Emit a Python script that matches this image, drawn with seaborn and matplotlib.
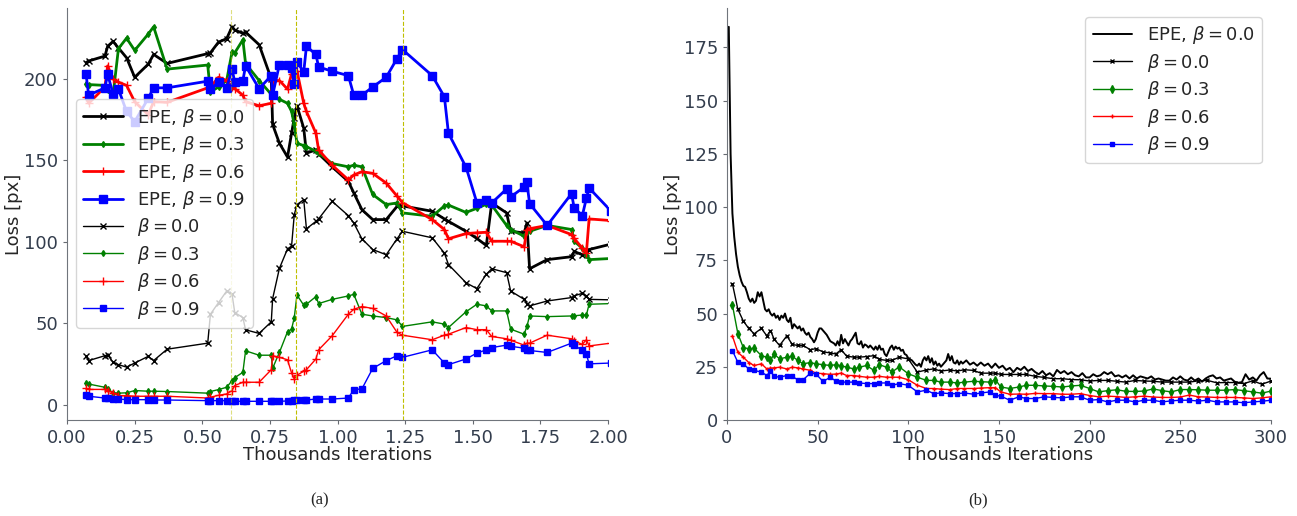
import numpy as np
import matplotlib
matplotlib.use('Agg')
import matplotlib.pyplot as plt
import seaborn as sns

# ---- (a) first 2k iterations ----
left_x = [0.07, 0.08, 0.14, 0.15, 0.17, 0.19, 0.22, 0.25, 0.30, 0.32,
          0.37, 0.52, 0.53, 0.56, 0.59, 0.61, 0.62, 0.65, 0.66, 0.71,
          0.755, 0.76, 0.785, 0.815, 0.83, 0.84, 0.85, 0.875, 0.885, 0.92,
          0.93, 0.98, 1.04, 1.06, 1.09, 1.13, 1.18, 1.22, 1.24, 1.35,
          1.395, 1.41, 1.475, 1.515, 1.55, 1.57, 1.625, 1.64, 1.69, 1.70,
          1.71, 1.775, 1.865, 1.875, 1.905, 1.92, 1.93, 2.01]

epe_b00 = [210, 211, 214, 220, 223, 219, 213, 201, 209, 215,
           209.5, 215.5, 216, 222.6, 224.7, 232, 230, 228, 228.7, 221,
           200, 172, 160.5, 152, 166.6, 176, 183.5, 169.7, 154.4, 156.4,
           154, 146, 137, 130, 119.7, 113.6, 113.6, 121.7, 122, 118.7,
           114, 112.5, 106.4, 102, 97.7, 123.8, 117.7, 106.4, 105.4, 111.5,
           83.4, 89, 90.8, 94, 92, 93, 95.2, 98.5]
epe_b03 = [197, 196.5, 196, 193, 190, 218.6, 225, 217.5, 227.5, 232,
           206, 208.5, 192, 195, 199, 216.5, 216, 224, 209.4, 199,
           190.5, 190, 187.5, 185, 180, 172, 160.5, 159, 158.4, 155.5,
           154.5, 148, 146, 147, 146, 129, 122.8, 123.8, 117.7, 115.6,
           122, 122.5, 118, 120.5, 123, 122.5, 110, 107.5, 103.4, 105.8,
           106.4, 110, 107.5, 100.3, 96, 92, 89, 89.7]
epe_b06 = [189, 185, 195, 208, 200, 198, 196, 186, 178, 186,
           185.6, 194.5, 195, 201, 199, 195, 194, 190, 186, 183.5,
           185, 199, 199, 193.7, 203, 204, 205, 185, 180, 166.6,
           156.4, 147, 138, 141, 143, 142, 136, 128, 124, 113.6,
           107.5, 101.8, 105, 105.5, 105.8, 100.3, 100.3, 100.3, 96.9, 107.5,
           108, 110, 104.4, 102, 96, 93.2, 114, 113]
epe_b09 = [203, 190, 194.5, 202.7, 191, 193.7, 180, 173.7, 188, 194.5,
           194.5, 198.6, 193.7, 198, 194.5, 206, 198, 199, 208, 194,
           202, 190, 208.8, 208.8, 206.7, 196.6, 210.4, 204.3, 220, 215,
           207.3, 204.7, 202, 190, 190, 195, 201, 212.5, 218, 202,
           189, 166.6, 145.8, 124, 125.4, 123.8, 132.4, 127.5, 133.6, 136.4,
           123.4, 110, 129.5, 120.7, 116, 126.8, 133, 119]
b00 = [30, 27, 30, 30.5, 26, 24.5, 23, 25.5, 29.6, 27,
       34, 37.7, 55.5, 62.6, 69.7, 67.7, 56.5, 53.4, 45.9, 43.7,
       50.8, 65, 83.6, 95.6, 97.3, 116.6, 122.8, 125.8, 107.9, 112.5,
       114, 124.8, 116, 111.5, 101.8, 95.2, 92, 101.8, 106.4, 102.4,
       93, 86, 74.8, 71.2, 80, 83.4, 81, 69.7, 64.6, 62,
       60.6, 63.6, 65.7, 66.8, 68.3, 66.8, 64.6, 64.3]
b03 = [13.3, 12.6, 10.6, 9.6, 7.2, 7, 7.2, 8.6, 8.2, 8.2,
       8, 7, 8, 9.2, 10.6, 14.7, 16.5, 19.8, 33, 30.3,
       30.3, 22.3, 32, 44.7, 46.3, 53.4, 67.3, 61, 61.6, 66.3,
       62, 64.6, 66.7, 67.7, 55.5, 54.4, 53.4, 52, 48, 50.8,
       49.4, 47.3, 57, 61.6, 60.6, 57.5, 57.5, 46.3, 43.2, 48,
       54.4, 54, 54.4, 54.5, 55, 55, 61.6, 62]
b06 = [10, 9.3, 9.3, 8.6, 7.2, 5.5, 5.5, 5.1, 5.1, 5.1,
       5.1, 4, 4.5, 5.7, 6.5, 8.6, 11.7, 13.7, 13.7, 13.7,
       21.4, 30, 29, 27.5, 19.4, 15.7, 18, 20.5, 21.4, 28,
       33.6, 42.2, 55.5, 58.5, 60.2, 59, 54.4, 44.3, 42.6, 39.8,
       42.6, 43.2, 47.3, 46, 46, 41.8, 40.4, 39.5, 36.5, 37.7,
       37.7, 42.6, 40.4, 39, 37, 39.8, 36, 37.7]
b09 = [6, 5.1, 4, 3.8, 3.4, 3.4, 3, 3, 3, 2.8,
       2.8, 2.4, 2.4, 2.4, 2.4, 2.2, 2, 2, 2, 2,
       2, 2, 2, 2.2, 2.4, 2.5, 2.6, 2.8, 2.8, 3.4,
       3.4, 3.4, 4, 9.2, 9.6, 22.2, 27, 30, 29, 33.6,
       25.5, 24.5, 28, 31.6, 33.6, 35, 36.5, 35.8, 34.6, 33.2,
       33.2, 32, 37.7, 36.5, 33.2, 31, 25, 25.5]
marks_a = [0.607, 0.848, 1.241]

# ---- (b) full run ----
right_x = [3, 6, 9, 12, 15, 19, 22, 24, 26, 29,
           33, 36, 39, 42, 46, 49, 53, 57, 60, 63,
           66, 70, 73, 77, 81, 84, 88, 91, 95, 100,
           105, 110, 114, 118, 123, 127, 131, 136, 140, 145,
           148, 151, 156, 161, 165, 170, 175, 180, 185, 190,
           195, 200, 205, 210, 215, 220, 225, 230, 235, 240,
           245, 250, 255, 260, 265, 270, 275, 280, 285, 290,
           295, 300]
r_b00 = [64, 52, 46.5, 43, 40.5, 43, 39.5, 42, 38, 35,
         39.5, 35.5, 35, 35, 33, 33.5, 32, 31.5, 31, 33,
         30, 29.5, 29.5, 29.8, 30.2, 28.5, 28, 28, 29.5, 28.7,
         22.5, 23.5, 24, 23, 23.5, 23, 23.6, 23.3, 22, 22,
         22, 21.4, 21.4, 21.4, 21.4, 20.5, 20, 19.4, 19.4, 19,
         18.9, 18.3, 18.6, 18.6, 18.2, 17.8, 18.6, 18.3, 18.2, 17.8,
         17.8, 17.8, 17.8, 18.4, 18.6, 17.5, 17.6, 17.6, 17.1, 18.4,
         16.8, 18.3]
r_b03 = [54, 40.6, 34, 33.5, 33.7, 30.2, 29.5, 28, 31, 28.7,
         29.5, 30, 28, 26.4, 27, 26.4, 26, 25.6, 26, 25.5,
         24.8, 24, 24.8, 25.6, 23.3, 26, 24.8, 22.5, 25, 21.7,
         20.1, 18.6, 18.6, 17.8, 17.8, 17.4, 17.8, 18.2, 18, 17.8,
         19, 15.5, 14.8, 15.5, 16.3, 16.3, 16, 15.8, 15.5, 16,
         16.3, 14.8, 13.2, 13.8, 14.2, 13.5, 13.4, 13.6, 14.6, 13.8,
         13.2, 14.3, 14.3, 14.2, 14, 14, 14, 14.3, 13.8, 13.2,
         12.6, 13.6]
r_b06 = [39.5, 31.8, 29.5, 27, 25.6, 26.4, 24, 24.4, 24.5, 24.8,
         24, 24.8, 24.5, 24, 23.3, 22, 21.8, 21.4, 21.6, 22,
         20.9, 20.9, 20.5, 20.1, 20.1, 20.5, 20.1, 20.1, 20.1, 18.9,
         16.3, 14.8, 14.8, 14.5, 14.3, 14.8, 14.8, 14.8, 15, 15.2,
         15.2, 13.2, 12.1, 12.2, 12.1, 12.5, 12.4, 12.4, 12.1, 12.1,
         12.4, 11.5, 10.9, 11.2, 11, 10.6, 10.9, 11.2, 10.8, 10.6,
         10.6, 10.8, 11.7, 10.9, 10.8, 10.6, 10.6, 10.6, 10.4, 10.1,
         10.4, 10.9]
r_b09 = [32.6, 27.1, 26.4, 24, 23.3, 22.5, 20.9, 23, 20.5, 20.1,
         20.9, 20.5, 18.9, 18.9, 22, 21.7, 18.1, 20.1, 18.3, 17.8,
         17.8, 17.8, 17.4, 17.1, 17.1, 17.4, 17.4, 16.3, 17.1, 16.3,
         13.2, 14, 12.4, 12.7, 12.4, 12.4, 12.7, 12.1, 12.7, 13.2,
         11.6, 11.2, 9.3, 10.9, 10.1, 10.1, 10.9, 10.6, 10.4, 10.9,
         10.9, 9.3, 9.6, 8.5, 9.3, 9.3, 8.5, 9.3, 9.3, 8.5,
         9, 9.3, 9.3, 8.9, 9.3, 8.5, 8.5, 8.5, 8.1, 8.5,
         8.8, 9.3]

# EPE logged every 1k up to 130k, then every 2k
epe_x = np.r_[1:131, 132:301:2]
epe_y = [184.6, 125, 97, 86, 78, 72, 68, 65, 63, 62.5,
         60, 57, 55.5, 57, 55, 56, 60, 58, 60, 56,
         52, 51, 52, 50, 49, 50, 48, 49, 47, 49,
         48, 50, 47, 46, 48, 43, 45, 44, 43, 44,
         42, 43, 41, 40, 41, 39, 38, 36.5, 38, 41,
         43, 43, 42, 41, 40, 38.5, 37, 36.5, 36, 35,
         37, 35, 40, 36, 38, 36.5, 35, 37, 38, 39.5,
         41, 36, 35.5, 37, 34, 35.5, 35, 34, 35, 34,
         33, 34.5, 33, 35, 33, 33.5, 31, 30, 32, 34,
         35, 33, 34.5, 33.5, 34, 32.5, 33, 31, 30.5, 29,
         28.5, 28, 27, 26, 25.5, 26.5, 25, 28, 29.5, 28,
         30, 27, 29, 26, 27.5, 25.5, 26.5, 25, 26, 27,
         28, 31, 28, 30, 27, 26.5, 28, 26, 27.5, 26.5,
         28, 26, 27, 25.5, 27, 25.5, 26.5, 24.5, 26.5, 24.5,
         25.5, 23.5, 24.5, 22.5, 24.5, 23.5, 25, 23, 24, 22.5,
         21.5, 23, 21, 22, 20.5, 23.5, 22, 23, 21.5, 22.5,
         21, 20.5, 22, 20, 20, 21.5, 20.5, 21, 22.5, 21.5,
         22.5, 20.5, 21, 20, 21, 19.5, 21, 19.5, 20.5, 20,
         19.5, 20.5, 19, 19.5, 19, 18.5, 18.5, 20, 19, 20.5,
         19, 18.5, 20, 18.5, 19.5, 18, 19.5, 20.5, 21, 19.5,
         20, 18.5, 19, 19.5, 18, 17.5, 17.8, 21.5, 19, 20,
         18.5, 21, 22.5, 19.5, 19.4]

TXT = '#333d4d'


def line(ax, x, y, color, marker, lw, ms, label):
    sns.lineplot(x=x, y=y, ax=ax, color=color, marker=marker, lw=lw,
                 markersize=ms, markeredgecolor=color, markeredgewidth=1,
                 label=label, legend=False, sort=False)


def style_axes(ax):
    sns.despine(ax=ax)
    ax.tick_params(labelsize=13, colors='#666a70', labelcolor=TXT, length=3)
    for s in ['left', 'bottom']:
        ax.spines[s].set_color('#70757c')
    ax.set_xlabel('Thousands Iterations', fontsize=13, labelpad=-1)
    ax.set_ylabel('Loss [px]', fontsize=13)
    ax.yaxis.set_label_coords(-0.082, 0.5)


def plot_first(ax):
    line(ax, left_x, epe_b00, 'black', 'x', 2, 5, r'EPE, $\beta=0.0$')
    line(ax, left_x, epe_b03, 'green', 'd', 2, 3, r'EPE, $\beta=0.3$')
    line(ax, left_x, epe_b06, 'red', '+', 2, 6, r'EPE, $\beta=0.6$')
    line(ax, left_x, epe_b09, 'blue', 's', 2, 6, r'EPE, $\beta=0.9$')
    line(ax, left_x, b00, 'black', 'x', 1, 5, r'$\beta=0.0$')
    line(ax, left_x, b03, 'green', 'd', 1, 3, r'$\beta=0.3$')
    line(ax, left_x, b06, 'red', '+', 1, 6, r'$\beta=0.6$')
    line(ax, left_x, b09, 'blue', 's', 1, 5, r'$\beta=0.9$')
    for i, v in enumerate(marks_a):
        ax.axvline(v, color='y', ls='--', lw=0.8, alpha=0.5 if i == 0 else 1)
    ax.set_xlim(0, 2.0)
    ax.legend(loc='upper left', bbox_to_anchor=(0.0, 0.80), fontsize=13,
              framealpha=0.8, handlelength=2.2, labelspacing=0.3)
    style_axes(ax)


def plot_full(ax):
    ax.plot(epe_x, epe_y, color='black', lw=1.4, label=r'EPE, $\beta=0.0$')
    line(ax, right_x, r_b00, 'black', 'x', 1, 3, r'$\beta=0.0$')
    line(ax, right_x, r_b03, 'green', 'd', 1, 4, r'$\beta=0.3$')
    line(ax, right_x, r_b06, 'red', '+', 1, 3.5, r'$\beta=0.6$')
    line(ax, right_x, r_b09, 'blue', 's', 1, 3.5, r'$\beta=0.9$')
    ax.set_xlim(0, 300)
    ax.set_ylim(bottom=0)
    ax.legend(loc='upper right', fontsize=13, handlelength=2.2,
              labelspacing=0.3)
    style_axes(ax)


if __name__ == '__main__':
    sns.set_style('ticks')
    plt.rcParams['font.family'] = ['DejaVu Sans']
    fig = plt.figure(figsize=(12.97, 5.16), dpi=100)
    ax1 = fig.add_axes([0.0517, 0.186, 0.4171, 0.7984])
    ax2 = fig.add_axes([0.5605, 0.186, 0.4194, 0.7984])
    plot_first(ax1)
    plot_full(ax2)
    fig.text(0.2467, 0.031, '(a)', ha='center', va='center', fontsize=12,
             family='Liberation Serif')
    fig.text(0.754, 0.031, '(b)', ha='center', va='center', fontsize=12,
             family='Liberation Serif')
    fig.savefig('out.png', dpi=100)
